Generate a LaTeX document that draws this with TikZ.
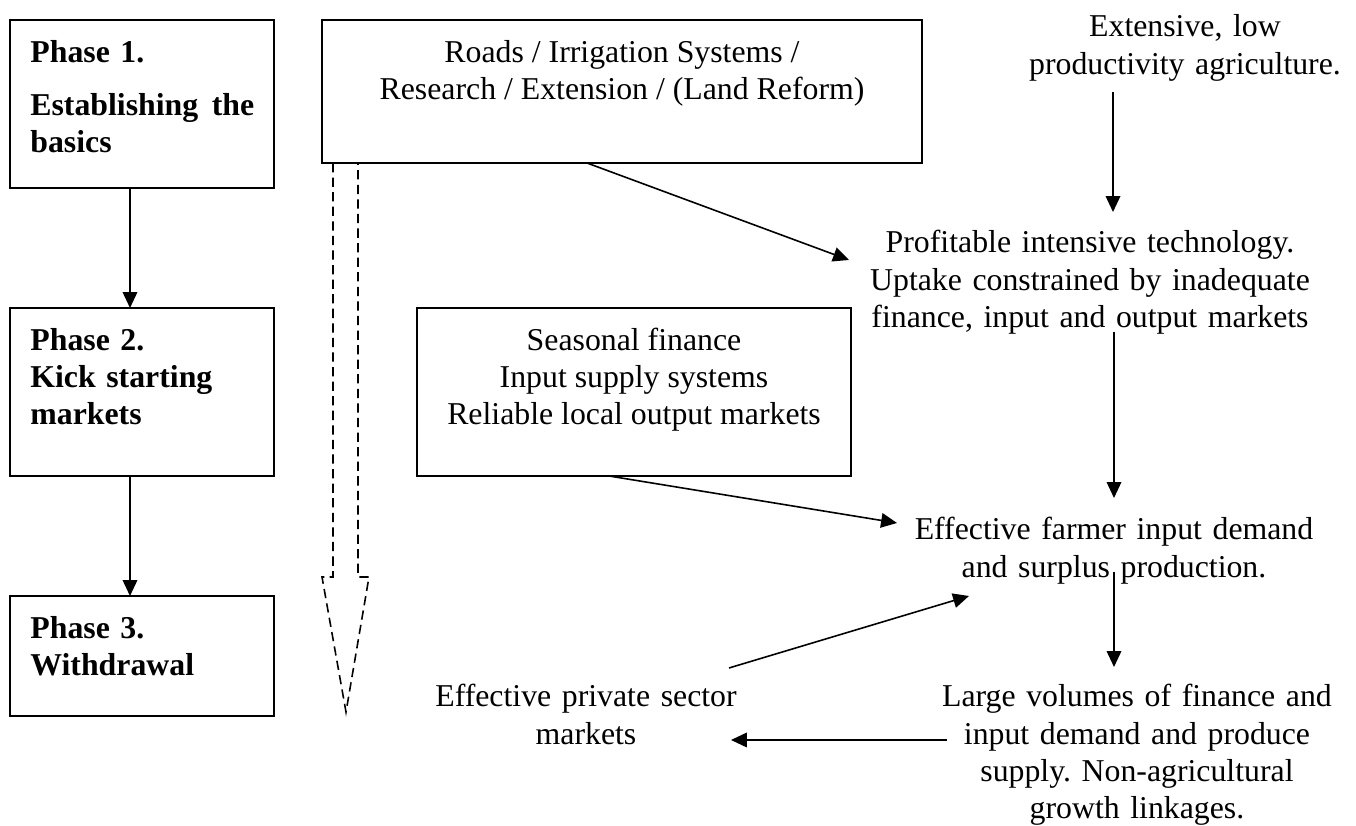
\documentclass[tikz,border=0pt]{standalone}
\usepackage{fontspec}
\setmainfont{Liberation Serif}
\usetikzlibrary{arrows.meta,calc}

\def\px{0.3774pt}
\frenchspacing

\tikzset{
  blockbox/.style={draw, rectangle, line width=0.75pt, inner sep=0pt, outer sep=0pt, anchor=north west},
  boxtext/.style={inner sep=7.5pt, font=\fontsize{12}{14}\selectfont},
  freetext/.style={inner sep=0pt, text width=200pt, align=center, anchor=base, font=\fontsize{12}{14}\selectfont},
  arr/.style={-{Triangle[length=6pt,width=5.5pt]}, line width=0.6pt},
  dasharr/.style={line width=0.6pt, dash pattern=on 3.5pt off 2pt},
}

\begin{document}
\begin{tikzpicture}[x=\px, y=-\px]
    \useasboundingbox (0,0) rectangle (1356,826);

    % Boxes
    \node (phaseone) [blockbox, minimum width=99.63pt, minimum height=63.40pt] at (10,20) {};
    \node (phasetwo) [blockbox, minimum width=99.63pt, minimum height=63.40pt] at (10,308) {};
    \node (phasethree) [blockbox, minimum width=99.63pt, minimum height=45.29pt] at (10,596) {};
    \node (roads) [blockbox, minimum width=226.44pt, minimum height=53.97pt] at (322,20) {};
    \node (seasonal) [blockbox, minimum width=163.79pt, minimum height=63.40pt] at (417,308) {};

    % Box texts
    \node [boxtext, anchor=north west, text width=84.5pt, align=left] at (phaseone.north west)
        {\textbf{Phase 1.}\\[6pt]\textbf{Establishing\hfill the}\\\textbf{basics}};
    \node [boxtext, anchor=north west, text width=84.5pt, align=left] at (phasetwo.north west)
        {\textbf{Phase 2.}\\\textbf{Kick starting}\\\textbf{markets}};
    \node [boxtext, anchor=north west, text width=84.5pt, align=left] at (phasethree.north west)
        {\textbf{Phase 3.}\\\textbf{Withdrawal}};
    \node [boxtext, anchor=north, align=center] at (roads.north)
        {Roads / Irrigation Systems /\\Research / Extension / (Land Reform)};
    \node [boxtext, anchor=north, align=center] at (seasonal.north)
        {Seasonal finance\\Input supply systems\\Reliable local output markets};

    % Free texts
    \node (extensive) [freetext] at (1185,37) {Extensive, low\\productivity agriculture.};
    \node (profit) [freetext] at (1090,253) {Profitable intensive technology.\\Uptake constrained by inadequate\\finance, input and output markets};
    \node (farmer) [freetext] at (1114,540) {Effective farmer input demand\\and surplus production.};
    \node (large) [freetext] at (1137,707) {Large volumes of finance and\\input demand and produce\\supply. Non-agricultural\\growth linkages.};
    \node (private) [freetext] at (586,707) {Effective private sector\\markets};

    % Arrows
    \draw[arr] ($(phaseone.south)+(-12,0)$) -- ($(phasetwo.north)+(-12,0)$);
    \draw[arr] ($(phasetwo.south)+(-12,0)$) -- ($(phasethree.north)+(-12,0)$);
    \draw[arr] ($(roads.south)+(-35,0)$) -- ($(profit.base)+(-241,7)$);
    \draw[arr] ($(extensive.base)+(-72,55)$) -- ($(profit.base)+(23,-41)$);
    \draw[arr] ($(profit.base)+(24,79)$) -- ($(farmer.base)+(0,-42)$);
    \draw[arr] ($(seasonal.south)+(-25,0)$) -- ($(farmer.base)+(-217,-17)$);
    \draw[arr] ($(farmer.base)+(0,32)$) -- ($(large.base)+(-23,-40)$);
    \draw[arr] ($(large.base)+(-190,33)$) -- ($(private.base)+(145,33)$);
    \draw[arr] ($(private.base)+(143,-39)$) -- ($(farmer.base)+(-145,56)$);

    % Dashed block arrow
    \draw[dasharr] ($(roads.south west)+(11,0)$) -- ++(0,414) -- ++(-11,0)
        -- ++(24,135) -- ++(23,-135) -- ++(-11,0) -- ++(0,-414);
\end{tikzpicture}
\end{document}
